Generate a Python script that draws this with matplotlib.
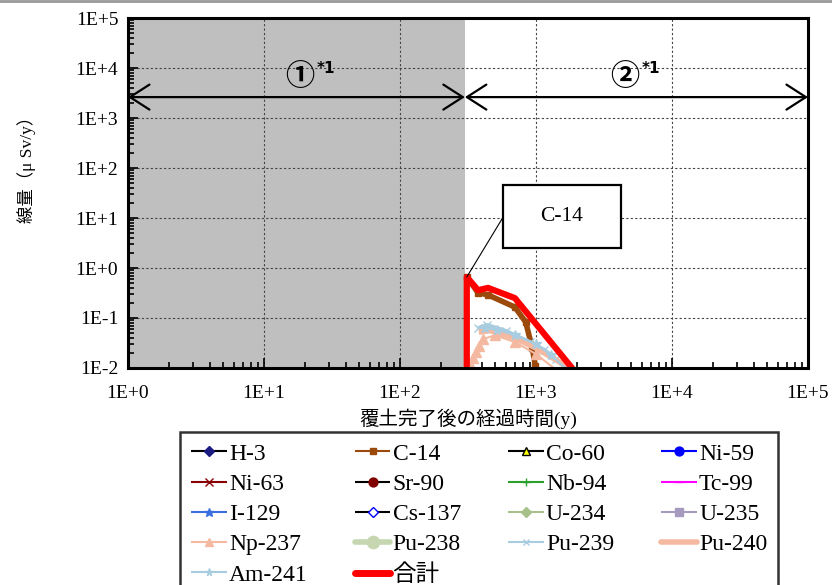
import math
import matplotlib
matplotlib.use('Agg')
import matplotlib.pyplot as plt
from matplotlib.ticker import FixedLocator, LogLocator, FuncFormatter, NullFormatter
from matplotlib.lines import Line2D

plt.rcParams['font.family'] = ['Liberation Serif', 'Noto Sans CJK JP', 'DejaVu Sans']

# years after cover completion / dose (uSv/y)
total_t = [310, 310, 375, 444, 700, 1840, 1950]
total_v = [0.001, 0.66, 0.36, 0.40, 0.25, 0.010, 0.008]

c14_t = [310, 375, 444, 700, 840, 940, 990, 1010]
c14_v = [0.66, 0.32, 0.29, 0.165, 0.083, 0.025, 0.011, 0.008]

pu239_t = [375, 440, 600, 900, 1150, 1400, 1750]
pu239_v = [0.063, 0.072, 0.055, 0.033, 0.023, 0.015, 0.009]

am241_t = [420, 520, 700, 1000, 1300, 1700]
am241_v = [0.062, 0.058, 0.045, 0.030, 0.018, 0.009]

pu240_t = [380, 460, 700, 1000, 1500, 1800]
pu240_v = [0.052, 0.056, 0.040, 0.025, 0.013, 0.009]

np237_t = [315, 330, 345, 360, 380, 410, 500, 700, 1000, 1500]
np237_v = [0.009, 0.012, 0.016, 0.021, 0.028, 0.038, 0.045, 0.033, 0.019, 0.008]

period_split = 300      # end of period 1 (y)
arrow_level = 2630
x_ticks = [1e0, 1e1, 1e2, 1e3, 1e4, 1e5]
y_ticks = [1e-2, 1e-1, 1e0, 1e1, 1e2, 1e3, 1e4, 1e5]

fig = plt.figure(figsize=(8.32, 5.85), dpi=100)
ax = fig.add_axes([0.1538, 0.371, 0.8173, 0.598])
ax.set_xscale('log')
ax.set_yscale('log')
ax.set_xlim(1, 1e5)
ax.set_ylim(1e-2, 1e5)

ax.axvspan(1, period_split, color='#bfbfbf', zorder=0.5, lw=0)
ax.grid(True, which='major', color='#444444', linestyle=(0, (2, 2)), lw=0.8)

# name: (t, v, colour, plot lw, legend lw, marker, face, edge, ms)
series = {
    'H-3': ([], [], 'black', 1.5, 1.5, 'D', '#1a1a80', '#1a1a80', 6),
    'C-14': (c14_t, c14_v, '#9c4a0c', 4, 1.5, 's', '#9c4a0c', '#9c4a0c', 5),
    'Co-60': ([], [], 'black', 1.5, 1.5, '^', '#ffff00', 'black', 7),
    'Ni-59': ([], [], '#0000ff', 1.5, 1.5, 'o', '#0000ff', '#0000ff', 8),
    'Ni-63': ([], [], '#8b0000', 1.5, 1.5, 'x', '#8b0000', '#8b0000', 7),
    'Sr-90': ([], [], 'black', 1.5, 1.5, 'o', '#800000', '#800000', 8),
    'Nb-94': ([], [], '#2ca02c', 1.5, 1.5, '+', '#2ca02c', '#2ca02c', 8),
    'Tc-99': ([], [], '#ff00ff', 1.5, 1.5, '_', '#ff00ff', '#ff00ff', 8),
    'I-129': ([], [], '#3a6fe0', 1.5, 1.5, '*', '#3a6fe0', '#3a6fe0', 8),
    'Cs-137': ([], [], 'black', 1.5, 1.5, 'D', 'white', '#0000ff', 6),
    'U-234': ([], [], '#a8c08a', 1.5, 1.5, 'D', '#a8c08a', '#a8c08a', 6),
    'U-235': ([], [], '#a69bbf', 1.5, 1.5, 's', '#a69bbf', '#a69bbf', 7),
    'Np-237': (np237_t, np237_v, '#f4b9a0', 1.5, 1.5, '^', '#f4b9a0', '#f4b9a0', 7),
    'Pu-238': ([], [], '#c5d6b0', 4, 4, 'o', '#c5d6b0', '#c5d6b0', 11),
    'Pu-239': (pu239_t, pu239_v, '#a9cde0', 3, 1.5, 'x', '#a9cde0', '#a9cde0', 6),
    'Pu-240': (pu240_t, pu240_v, '#f4b9a0', 4, 4, '', '#f4b9a0', '#f4b9a0', 0),
    'Am-241': (am241_t, am241_v, '#a9cde0', 1.5, 1.5, '*', '#a9cde0', '#a9cde0', 7),
    '合計': (total_t, total_v, '#ff0000', 4.5, 5, '', '#ff0000', '#ff0000', 0),
}

handles = {}
for name, (t, v, c, lw, leg_lw, m, mfc, mec, ms) in series.items():
    ax.plot(t, v, color=c, lw=lw, marker=m, mfc=mfc, mec=mec, ms=ms,
            solid_capstyle='butt')
    handles[name] = Line2D([], [], color=c, lw=leg_lw, marker=m, mfc=mfc, mec=mec,
                           ms=ms, solid_capstyle='round' if leg_lw > 3 else 'butt')

# axes styling
for s in ax.spines.values():
    s.set_linewidth(2.2)
ax.xaxis.set_major_locator(FixedLocator(x_ticks))
ax.yaxis.set_major_locator(FixedLocator(y_ticks))
ax.xaxis.set_minor_locator(LogLocator(base=10, subs=range(2, 10), numticks=20))
ax.yaxis.set_minor_locator(LogLocator(base=10, subs=range(2, 10), numticks=20))
ax.xaxis.set_minor_formatter(NullFormatter())
ax.yaxis.set_minor_formatter(NullFormatter())
fmt = FuncFormatter(lambda val, pos: '1E%+d' % round(math.log10(val)))
ax.xaxis.set_major_formatter(fmt)
ax.yaxis.set_major_formatter(fmt)
ax.tick_params(which='both', direction='in', top=False, right=False, labelsize=14, width=1.2)
ax.tick_params(which='major', length=7)
ax.tick_params(which='minor', length=4)
ax.tick_params(axis='x', pad=12)
ax.tick_params(axis='y', pad=7)

ax.set_xlabel('覆土完了後の経過時間(y)', fontsize=14, labelpad=5)
ax.set_ylabel('線量（μ Sv/y）', fontsize=12.5)
ax.yaxis.set_label_coords(-0.135, 0.58)

# period arrows
arrow_kw = dict(arrowstyle='<->,head_length=0.7,head_width=0.45', lw=1.6, color='black',
                shrinkA=0, shrinkB=0, mutation_scale=20)
ax.annotate('', xy=(1, arrow_level), xytext=(period_split, arrow_level), arrowprops=arrow_kw)
ax.annotate('', xy=(period_split, arrow_level), xytext=(1e5, arrow_level), arrowprops=arrow_kw)
for label, xpos in [('①', 18.4), ('②', 4510)]:
    ax.text(xpos, 7000, label, fontsize=21, fontweight='bold', ha='center', va='center',
            family=['Noto Sans CJK JP', 'DejaVu Sans'])
    ax.annotate('*1', xy=(xpos, 7000), xytext=(19, 5), textcoords='offset points',
                fontsize=11, fontweight='bold', ha='center', va='center', family='DejaVu Sans')

# C-14 callout
box = plt.Rectangle((0.551, 0.343), 0.1735, 0.18, transform=ax.transAxes,
                    facecolor='white', edgecolor='black', lw=1.6, zorder=5)
ax.add_patch(box)
ax.text(0.638, 0.433, 'C-14', transform=ax.transAxes, ha='center', va='center',
        fontsize=15.5, zorder=6)
ax.annotate('', xy=(c14_t[0], c14_v[0]), xycoords='data', xytext=(0.551, 0.429),
            textcoords='axes fraction',
            arrowprops=dict(arrowstyle='-', lw=0.8, color='black', shrinkA=0, shrinkB=0))

# legend (row-major order as in the reference)
order = ['H-3', 'Ni-63', 'I-129', 'Np-237', 'Am-241',
         'C-14', 'Sr-90', 'Cs-137', 'Pu-238', '合計',
         'Co-60', 'Nb-94', 'U-234', 'Pu-239',
         'Ni-59', 'Tc-99', 'U-235', 'Pu-240']
leg = fig.legend([handles[k] for k in order], order, ncol=4, loc='upper center',
                 bbox_to_anchor=(0.576, 1 - 432 / 585), borderaxespad=0, fontsize=17,
                 frameon=True, fancybox=False, edgecolor='black', handlelength=1.5,
                 handletextpad=0.1, columnspacing=2.0, labelspacing=0.37, borderpad=0.47,
                 markerscale=0.8, numpoints=1)
leg.get_frame().set_linewidth(1.8)

fig.add_artist(Line2D([0, 1], [0.998, 0.998], color='#999999', lw=2))

fig.savefig('out.png', dpi=100)
